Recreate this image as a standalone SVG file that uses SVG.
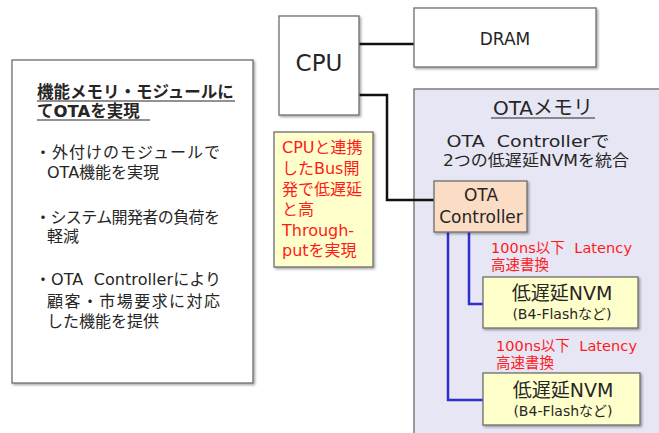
<svg xmlns="http://www.w3.org/2000/svg" width="659" height="433" viewBox="0 0 659 433">
<defs>
<filter id="sh" x="-10%" y="-10%" width="120%" height="120%">
<feDropShadow dx="1.5" dy="1.5" stdDeviation="1" flood-color="#000" flood-opacity="0.35"/>
</filter>
</defs>
<style>
text{font-family:"DejaVu Sans","Noto Sans CJK JP",sans-serif;fill:#262626;white-space:pre}
.box{stroke:#6e6e6e;stroke-width:1.3;filter:url(#sh)}
.red{fill:#ff1a1a}
.bk{fill:none;stroke:#111;stroke-width:2.5}
.bl{fill:none;stroke:#2f2fd0;stroke-width:2.5}
.c{text-anchor:middle}
</style>
<rect width="659" height="433" fill="#fff"/>

<g id="ota-memory">
<rect class="box" x="414" y="89" width="260" height="360" fill="#e6e6f5"/>
<text class="c" x="543" y="115" font-size="20">OTAメモリ</text>
<line x1="491" y1="118" x2="595" y2="118" stroke="#262626" stroke-width="1.2"/>
<text class="c" x="528" y="147" font-size="15.5" textLength="163" lengthAdjust="spacingAndGlyphs">OTA  Controllerで</text>
<text class="c" x="536" y="166" font-size="15.5" textLength="186" lengthAdjust="spacingAndGlyphs">2つの低遅延NVMを統合</text>
</g>

<g id="connectors">
<polyline class="bk" points="359,44 414,44"/>
<polyline class="bk" points="359,95 387,95 387,200 434,200"/>
<polyline class="bl" points="469,232 469,304 483,304"/>
<polyline class="bl" points="448,232 448,400 483,400"/>
</g>

<g id="summary">
<rect class="box" x="12" y="60" width="241" height="323" fill="#fff"/>
<text x="37" y="98" font-size="16.5" font-weight="bold">機能メモリ・モジュールに</text>
<text x="37" y="117" font-size="16.5" font-weight="bold">てOTAを実現</text>
<line x1="37" y1="101" x2="235" y2="101" stroke="#262626" stroke-width="1.2"/>
<line x1="37" y1="120" x2="150" y2="120" stroke="#262626" stroke-width="1.2"/>
<text x="35" y="158" font-size="16" textLength="185">・外付けのモジュールで</text>
<text x="47" y="178" font-size="16">OTA機能を実現</text>
<text x="35" y="223" font-size="16" textLength="185">・システム開発者の負荷を</text>
<text x="47" y="242" font-size="16">軽減</text>
<text x="35" y="285" font-size="16" textLength="186">・OTA  Controllerにより</text>
<text x="47" y="307" font-size="16" textLength="173">顧客・市場要求に対応</text>
<text x="47" y="327" font-size="16">した機能を提供</text>
</g>

<g id="cpu">
<rect class="box" x="279" y="16" width="80" height="99" fill="#fff"/>
<text class="c" x="319" y="71" font-size="23">CPU</text>
</g>

<g id="dram">
<rect class="box" x="414" y="8" width="182" height="59" fill="#fff"/>
<text class="c" x="505" y="45" font-size="17">DRAM</text>
</g>

<g id="bus-note">
<rect class="box" x="274" y="132" width="99" height="135" fill="#ffffcc"/>
<text class="red" x="282" y="153" font-size="16">CPUと連携</text>
<text class="red" x="282" y="174" font-size="16">したBus開</text>
<text class="red" x="282" y="195" font-size="16">発で低遅延</text>
<text class="red" x="282" y="215" font-size="16">と高</text>
<text class="red" x="282" y="236" font-size="16">Through-</text>
<text class="red" x="282" y="256" font-size="16">putを実現</text>
</g>

<g id="ota-controller">
<rect class="box" x="434" y="181" width="93" height="51" fill="#fbdcc4"/>
<text class="c" x="481" y="201" font-size="17">OTA</text>
<text class="c" x="481" y="223" font-size="17">Controller</text>
</g>

<g id="latency-1">
<text class="red" x="491" y="253" font-size="14.5" textLength="141">100ns以下  Latency</text>
<text class="red" x="491" y="270" font-size="14.5">高速書換</text>
</g>

<g id="nvm-1">
<rect class="box" x="483" y="277" width="155" height="51" fill="#ffffcc"/>
<text class="c" x="562" y="300" font-size="19">低遅延NVM</text>
<text class="c" x="562" y="319" font-size="14">(B4-Flashなど)</text>
</g>

<g id="latency-2">
<text class="red" x="496" y="351" font-size="14.5" textLength="141">100ns以下  Latency</text>
<text class="red" x="496" y="368" font-size="14.5">高速書換</text>
</g>

<g id="nvm-2">
<rect class="box" x="483" y="373" width="157" height="52" fill="#ffffcc"/>
<text class="c" x="563" y="397" font-size="19">低遅延NVM</text>
<text class="c" x="563" y="416" font-size="14">(B4-Flashなど)</text>
</g>
</svg>
